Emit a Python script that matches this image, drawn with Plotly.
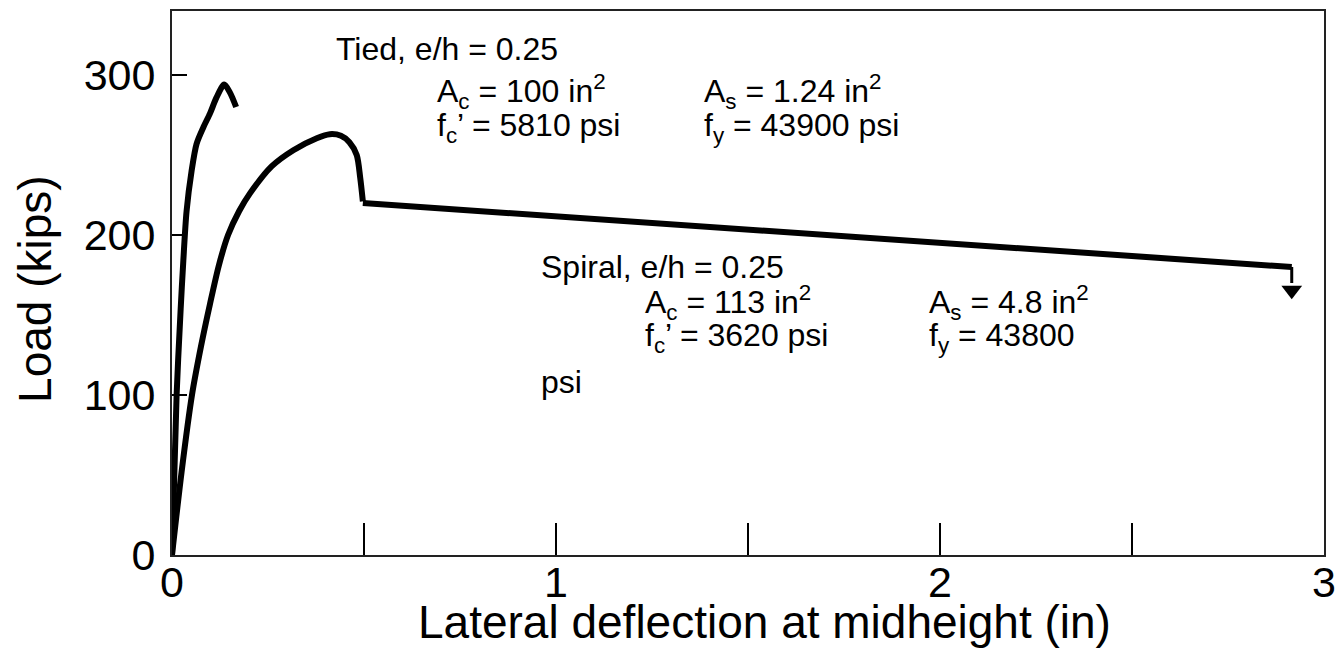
import plotly.graph_objects as go

# Tied column, e/h = 0.25
tied_defl = [0.0, 0.012, 0.0226, 0.0295, 0.038, 0.051, 0.064, 0.082, 0.099, 0.116, 0.136, 0.151, 0.167]
tied_load = [0, 100, 154, 184, 215, 240, 257, 267.5, 276, 286, 294, 289, 280]

# Spiral column, e/h = 0.25 (rising branch up to the sudden drop)
spiral_defl = [0.0, 0.025, 0.052, 0.076, 0.099, 0.122, 0.146, 0.175, 0.203, 0.260, 0.316, 0.377,
               0.411, 0.440, 0.462, 0.481, 0.490, 0.497]
spiral_load = [0, 52, 100, 131, 157, 181, 200, 215, 226, 243, 253, 260.5,
               263, 262, 258, 250, 236, 221]
# Spiral column, descending branch after the drop
spiral_tail_defl = [0.497, 2.916]
spiral_tail_load = [220, 180]

# arrow at end of spiral test
arrow_defl = [2.916, 2.916]
arrow_load = [180, 170]
arrow_head_load = [165.5]

x_tickvals = [0, 0.5, 1, 1.5, 2, 2.5, 3]
x_ticktext = ["0", "", "1", "", "2", "", "3"]
y_tickvals = [0, 100, 200, 300]
y_ticktext = ["0", "100", "200", "300"]
x_title = "Lateral deflection at midheight (in)"
y_title = "Load (kips)"

FONT = "Liberation Sans, Arial, sans-serif"

fig = go.Figure()
fig.add_trace(go.Scatter(x=tied_defl, y=tied_load, mode="lines",
                         line=dict(color="black", width=6, shape="spline", smoothing=0.8),
                         showlegend=False, hoverinfo="skip"))
fig.add_trace(go.Scatter(x=spiral_defl, y=spiral_load, mode="lines",
                         line=dict(color="black", width=6, shape="spline", smoothing=0.8),
                         showlegend=False, hoverinfo="skip"))
fig.add_trace(go.Scatter(x=spiral_tail_defl, y=spiral_tail_load, mode="lines",
                         line=dict(color="black", width=6),
                         showlegend=False, hoverinfo="skip"))
fig.add_trace(go.Scatter(x=arrow_defl, y=arrow_load, mode="lines",
                         line=dict(color="black", width=3),
                         showlegend=False, hoverinfo="skip"))
fig.add_trace(go.Scatter(x=[arrow_defl[0]], y=arrow_head_load, mode="markers",
                         marker=dict(symbol="triangle-down", size=18, color="black",
                                     line=dict(width=0)),
                         showlegend=False, hoverinfo="skip"))

ann_font = dict(family=FONT, size=32, color="black")
notes = [
    (0.141, 0.930, "Tied, e/h = 0.25"),
    (0.228, 0.852, "A<sub>c</sub> = 100 in<sup>2</sup>"),
    (0.460, 0.852, "A<sub>s</sub> = 1.24 in<sup>2</sup>"),
    (0.228, 0.785, "f<sub>c</sub>’ = 5810 psi"),
    (0.460, 0.785, "f<sub>y</sub> = 43900 psi"),
    (0.319, 0.530, "Spiral, e/h = 0.25"),
    (0.409, 0.465, "A<sub>c</sub> = 113 in<sup>2</sup>"),
    (0.655, 0.465, "A<sub>s</sub> = 4.8 in<sup>2</sup>"),
    (0.409, 0.399, "f<sub>c</sub>’ = 3620 psi"),
    (0.655, 0.399, "f<sub>y</sub> = 43800"),
    (0.319, 0.318, "psi"),
]
for x, y, t in notes:
    fig.add_annotation(x=x, y=y, xref="paper", yref="paper", text=t, showarrow=False,
                       xanchor="left", yanchor="middle", font=ann_font)

title_font = dict(family=FONT, size=46, color="black")
fig.add_annotation(x=0.514, y=-0.123, xref="paper", yref="paper", text=x_title,
                   showarrow=False, xanchor="center", yanchor="middle", font=title_font)
fig.add_annotation(x=-0.119, y=0.489, xref="paper", yref="paper", text=y_title,
                   showarrow=False, xanchor="center", yanchor="middle", textangle=-90,
                   font=title_font)

fig.update_layout(
    width=1341, height=663,
    margin=dict(l=172, r=17, t=11, b=108),
    plot_bgcolor="white", paper_bgcolor="white",
    font=dict(family=FONT, color="black"),
    showlegend=False,
)
fig.update_xaxes(range=[0, 3], tickvals=x_tickvals, ticktext=x_ticktext,
                 ticks="inside", ticklen=32, tickwidth=2, tickcolor="black",
                 showline=True, linecolor="#222", linewidth=2, mirror=True,
                 showgrid=False, zeroline=False, automargin=False, ticklabelstandoff=-12,
                 tickfont=dict(family=FONT, size=43, color="black"))
fig.update_yaxes(range=[0, 340], tickvals=y_tickvals, ticktext=y_ticktext,
                 ticks="inside", ticklen=15, tickwidth=2, tickcolor="black",
                 showline=True, linecolor="#222", linewidth=2, mirror=True,
                 showgrid=False, zeroline=False, automargin=False, ticklabelstandoff=6,
                 tickfont=dict(family=FONT, size=43, color="black"))

fig.write_html("out.html", config={"displayModeBar": False},
               post_script="document.body.style.margin='0';")
